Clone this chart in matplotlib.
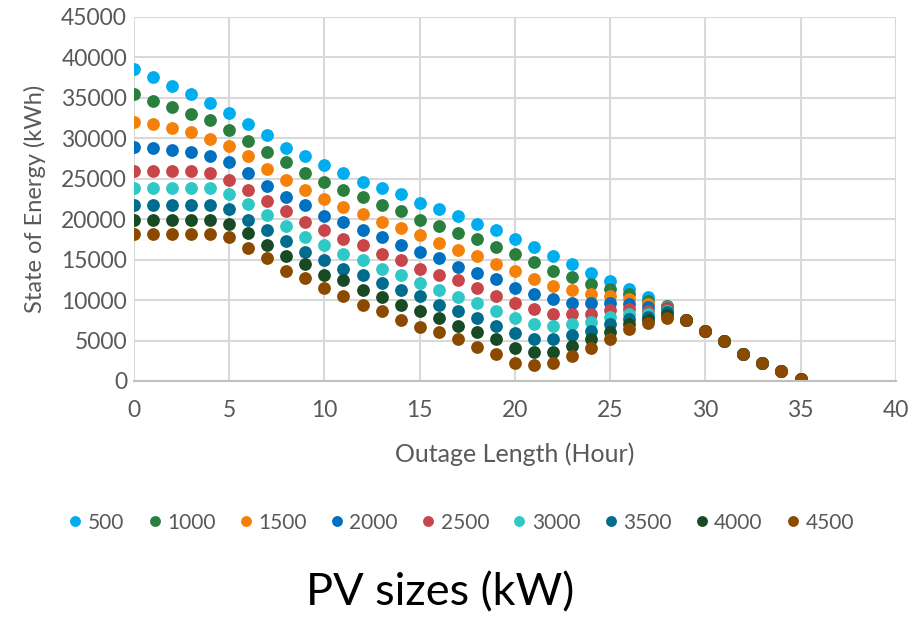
import matplotlib
matplotlib.use("Agg")
import matplotlib.pyplot as plt

plt.rcParams['font.family'] = ['Lato', 'DejaVu Sans']

hours = list(range(0, 29))
tail_hours = list(range(29, 36))
tail_soe = [7530, 6175, 4900, 3290, 2260, 1235, 210]

pv_sizes = ["500", "1000", "1500", "2000", "2500", "3000", "3500", "4000", "4500"]
colors = ["#00AEEF", "#2A7F3E", "#F5800A", "#0070C0", "#C8454A",
          "#2EC9C6", "#006C8E", "#174A25", "#8C4A00"]

soe_500 = [38600, 37580, 36520, 35480, 34420, 33100, 31740, 30420, 28860, 27830,
           26760, 25730, 24660, 23870, 23090, 22020, 21260, 20450, 19410, 18630,
           17570, 16510, 15440, 14410, 13340, 12310, 11360, 10400, 9300]
soe_1000 = [35480, 34660, 33880, 33060, 32320, 31000, 29640, 28320, 27010, 25690,
            24660, 23590, 22800, 21770, 21000, 19920, 19140, 18340, 17570, 16510,
            15720, 14655, 13585, 12800, 12020, 11360, 10710, 9880, 9300]
soe_1500 = [32070, 31740, 31245, 30720, 29970, 29110, 27830, 26220, 24900, 23590,
            22550, 21530, 20700, 19670, 18860, 18070, 17020, 16240, 15450, 14410,
            13620, 12560, 11730, 11200, 10710, 10540, 10090, 9470, 9100]
soe_2000 = [28940, 28860, 28570, 28320, 27830, 27010, 25690, 24120, 22800, 21770,
            20430, 19640, 18610, 17820, 16760, 15970, 15160, 14140, 13350, 12560,
            11490, 10710, 10170, 9630, 9630, 9630, 9470, 9090, 9000]
soe_2500 = [25935, 25935, 25935, 25935, 25730, 24900, 23590, 22270, 20995, 19670,
            18610, 17570, 16780, 15720, 14920, 13870, 13090, 12430, 11530, 10460,
            9630, 8850, 8310, 8310, 8310, 8810, 8850, 8680, 8900]
soe_3000 = [23835, 23835, 23835, 23835, 23835, 23130, 21860, 20460, 19180, 17820,
            16780, 15750, 14920, 13870, 13090, 12060, 11280, 10410, 9670, 8610,
            7780, 7000, 6755, 7000, 7290, 7900, 8230, 8270, 8700]
soe_3500 = [21735, 21735, 21735, 21735, 21735, 21200, 19880, 18610, 17290, 15970,
            14920, 13870, 13060, 12060, 11240, 10460, 9430, 8610, 7820, 6755,
            5970, 5190, 5190, 5680, 6210, 7000, 7620, 7900, 8500]
soe_4000 = [19880, 19880, 19880, 19880, 19880, 19390, 18280, 16800, 15400, 14430,
            13140, 12430, 11280, 10375, 9385, 8645, 7820, 6790, 6010, 5190,
            4120, 3580, 3580, 4360, 5190, 6090, 7000, 7530, 8200]
soe_4500 = [18115, 18115, 18115, 18115, 18115, 17780, 16460, 15230, 13585, 12760,
            11490, 10460, 9385, 8610, 7530, 6710, 6010, 5230, 4200, 3330,
            2270, 2020, 2270, 3090, 4120, 5190, 6380, 7200, 7820]

series = [soe_500, soe_1000, soe_1500, soe_2000, soe_2500,
          soe_3000, soe_3500, soe_4000, soe_4500]

fig = plt.figure(figsize=(9.14, 6.17), dpi=100)
ax = fig.add_axes([0.1466, 0.3825, 0.8334, 0.59])

for size, soe, c in zip(pv_sizes, series, colors):
    ax.plot(hours + tail_hours, soe + tail_soe, linestyle="none", marker="o",
            ms=9.2, color=c, markeredgewidth=0, label=size)

ax.set_xlim(0, 40)
ax.set_ylim(0, 45000)
ax.set_xticks(range(0, 41, 5))
ax.set_yticks(range(0, 45001, 5000))
ax.grid(True, color="#D9D9D9", linewidth=1.5)
ax.set_axisbelow(True)
for s in ["top", "right", "left"]:
    ax.spines[s].set_visible(False)
ax.spines["bottom"].set_color("#BFBFBF")
ax.spines["bottom"].set_linewidth(1.5)
ax.tick_params(length=0, labelsize=16.5, colors="#595959")
ax.tick_params(axis="x", pad=14)
ax.tick_params(axis="y", pad=5)

ax.set_xlabel("Outage Length (Hour)", fontsize=18, color="#595959", labelpad=15)
ax.set_ylabel("State of Energy (kWh)", fontsize=17, color="#595959", labelpad=11)

fig.legend(loc="center", bbox_to_anchor=(0.505, 0.153), ncol=9, frameon=False,
           fontsize=15, labelcolor="#595959", handletextpad=0.3,
           columnspacing=1.15, handlelength=0.6, markerscale=0.85)

fig.text(0.482, 0.018, "PV sizes (kW)", fontsize=32.5, color="black", ha="center")

fig.savefig("out.png", dpi=100)
